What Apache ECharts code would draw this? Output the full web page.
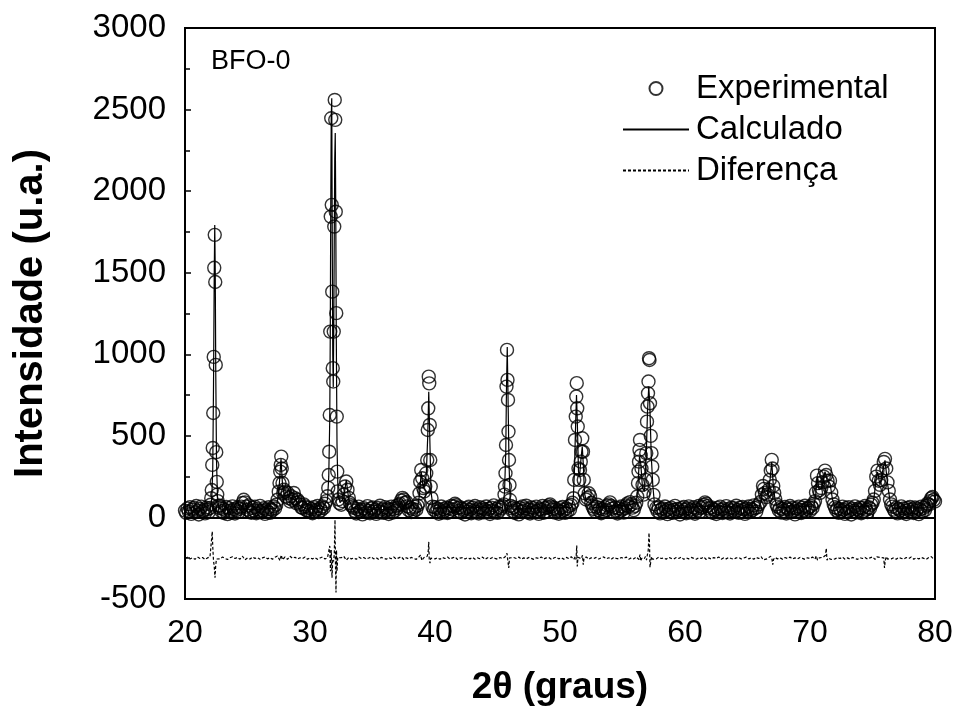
<!DOCTYPE html>
<html><head><meta charset="utf-8">
<script src="https://cdn.jsdelivr.net/npm/echarts@6/dist/echarts.min.js"></script>
<style>html,body{margin:0;padding:0;background:#fff}#c{width:959px;height:718px}</style>
</head><body><div id="c"></div>
<script>
// Axis ticks
const xTicks = [20, 30, 40, 50, 60, 70, 80];
const yTicks = [-500, 0, 500, 1000, 1500, 2000, 2500, 3000];
const sampleLabel = 'BFO-0';
const seriesNames = ['Experimental', 'Calculado', 'Diferença'];

// Experimental pattern [2θ, intensity]
const experimental = [
[20.0,42],[20.1,28],[20.2,55],[20.3,36],[20.4,63],[20.5,22],[20.6,47],[20.7,58],[20.8,31],[20.9,70],[21.0,40],[21.1,18],[21.2,52],[21.3,66],[21.4,35],[21.5,44],[21.6,25],[21.7,60],[21.8,49],[21.9,33],[22.0,58],
[22.06,78],[22.10,118],[22.14,168],[22.18,322],[22.22,426],[22.26,640],[22.30,984],[22.34,1530],[22.38,1732],[22.42,1443],[22.46,935],[22.50,400],[22.54,218],[22.58,140],[22.62,100],[22.68,72],[22.76,58],
[22.8,72],[22.9,38],[23.0,54],[23.1,27],[23.2,46],[23.3,64],[23.4,20],[23.5,57],[23.6,41],[23.7,30],[23.8,68],[23.9,50],[24.0,24],[24.1,45],[24.2,61],[24.3,34],[24.4,53],[24.5,66],[24.6,88],[24.7,108],[24.8,92],[24.9,66],
[25.0,48],[25.1,74],[25.2,37],[25.3,29],[25.4,59],[25.5,43],[25.6,65],[25.7,26],[25.8,51],[25.9,39],[26.0,71],[26.1,32],[26.2,42],[26.3,56],[26.4,22],[26.5,47],[26.6,35],[26.7,62],[26.8,28],[26.9,50],[27.0,44],[27.1,67],[27.2,55],[27.3,78],
[27.4,108],[27.5,158],[27.56,211],[27.62,281],[27.66,322],[27.70,373],[27.74,300],[27.80,211],[27.86,150],[27.92,170],[28.0,158],[28.1,128],[28.2,150],[28.3,118],[28.4,98],[28.5,130],[28.6,108],[28.7,150],[28.8,118],[28.9,88],[29.0,108],
[29.1,95],[29.2,78],[29.3,62],[29.4,58],[29.5,80],[29.6,68],[29.7,45],[29.8,42],[29.9,60],[30.0,35],
[30.1,52],[30.2,26],[30.3,63],[30.4,38],[30.5,47],[30.6,70],[30.7,33],[30.8,55],[30.9,44],[31.0,68],[31.1,58],[31.2,84],[31.3,100],
[31.40,130],[31.46,181],[31.50,260],[31.54,403],[31.58,628],[31.62,1139],[31.66,1844],[31.70,2447],[31.74,1916],[31.78,1384],[31.82,915],[31.86,833],[31.90,1139],[31.94,1783],[31.98,2559],[32.02,2437],[32.06,1874],[32.10,1252],[32.14,618],[32.18,281],[32.22,160],[32.28,110],[32.36,88],
[32.5,78],[32.6,100],[32.7,140],[32.8,190],[32.9,220],[33.0,170],[33.1,120],[33.2,88],[33.3,75],[33.4,66],
[33.5,58],[33.6,40],[33.7,24],[33.8,52],[33.9,66],[34.0,37],[34.1,45],[34.2,19],[34.3,57],[34.4,48],[34.5,31],[34.6,69],[34.7,42],[34.8,26],[34.9,54],[35.0,61],[35.1,36],[35.2,47],[35.3,22],[35.4,58],[35.5,40],[35.6,72],[35.7,33],[35.8,50],[35.9,28],
[36.0,63],[36.1,45],[36.2,55],[36.3,21],[36.4,48],[36.5,66],[36.6,30],[36.7,52],[36.8,41],[36.9,70],[37.0,58],[37.1,76],[37.2,84],[37.3,104],[37.4,120],[37.5,110],[37.6,88],[37.7,95],[37.8,68],[37.9,44],[38.0,60],[38.1,33],[38.2,52],[38.3,38],[38.4,65],[38.5,47],[38.6,72],
[38.70,90],[38.76,148],[38.82,219],[38.90,291],[38.98,240],[39.06,180],[39.14,160],[39.22,189],[39.30,271],[39.38,352],[39.42,536],[39.46,669],[39.50,863],[39.54,822],[39.58,567],[39.62,352],[39.66,189],[39.72,118],[39.80,66],[39.9,48],
[40.0,62],[40.1,35],[40.2,54],[40.3,23],[40.4,46],[40.5,67],[40.6,30],[40.7,51],[40.8,42],[40.9,60],[41.0,27],[41.1,55],[41.2,38],[41.3,71],[41.4,49],[41.5,68],[41.6,84],[41.7,75],[41.8,58],[41.9,40],
[42.0,62],[42.1,29],[42.2,53],[42.3,44],[42.4,18],[42.5,57],[42.6,36],[42.7,65],[42.8,47],[42.9,26],[43.0,59],[43.1,41],[43.2,70],[43.3,33],[43.4,50],[43.5,24],[43.6,62],[43.7,45],[43.8,56],[43.9,31],
[44.0,48],[44.1,67],[44.2,38],[44.3,53],[44.4,21],[44.5,60],[44.6,43],[44.7,74],[44.8,35],[44.9,52],[45.0,28],[45.1,64],[45.2,46],[45.3,58],[45.4,70],
[45.50,80],[45.56,140],[45.60,189],[45.64,271],[45.68,444],[45.72,802],[45.76,1027],[45.80,843],[45.84,720],[45.88,526],[45.92,352],[45.96,199],[46.00,107],[46.06,70],[46.15,56],
[46.2,40],[46.3,63],[46.4,27],[46.5,52],[46.6,45],[46.7,19],[46.8,58],[46.9,36],[47.0,68],[47.1,42],[47.2,55],[47.3,72],[47.4,31],[47.5,49],[47.6,24],[47.7,61],[47.8,44],[47.9,57],
[48.0,33],[48.1,66],[48.2,40],[48.3,22],[48.4,53],[48.5,47],[48.6,70],[48.7,29],[48.8,56],[48.9,38],[49.0,62],[49.1,74],[49.2,80],[49.3,66],[49.4,48],[49.5,59],[49.6,30],[49.7,52],[49.8,41],[49.9,23],
[50.0,57],[50.1,35],[50.2,64],[50.3,46],[50.4,28],[50.5,54],[50.6,39],[50.7,69],[50.8,48],[50.9,76],
[51.00,90],[51.08,118],[51.14,230],[51.20,475],[51.26,618],[51.30,741],[51.34,823],[51.38,669],[51.42,557],[51.48,300],[51.54,230],[51.60,291],[51.66,342],[51.72,403],[51.78,485],[51.84,403],[51.90,230],[51.98,148],[52.08,110],[52.2,120],[52.3,148],[52.4,130],[52.5,90],[52.6,68],
[52.7,52],[52.8,38],[52.9,64],[53.0,78],[53.1,45],[53.2,58],[53.3,26],[53.4,50],[53.5,36],[53.6,62],[53.7,44],[53.8,72],[53.9,80],[54.0,92],[54.1,70],[54.2,55],[54.3,33],[54.4,61],[54.5,42],[54.6,24],[54.7,56],[54.8,38],[54.9,67],
[55.0,47],[55.1,30],[55.2,58],[55.3,74],[55.4,86],[55.5,66],[55.6,94],[55.7,80],[55.8,60],[55.9,45],[56.0,70],
[56.10,90],[56.18,128],[56.24,210],[56.28,281],[56.32,342],[56.36,414],[56.40,475],[56.46,380],[56.52,300],[56.60,200],[56.68,140],[56.76,160],[56.84,230],[56.90,394],[56.96,587],[57.00,679],[57.04,761],[57.08,833],[57.12,976],[57.16,965],[57.20,700],[57.26,500],[57.32,394],[57.38,311],[57.42,230],[57.48,138],[57.56,80],[57.7,58],
[57.8,40],[57.9,62],[58.0,25],[58.1,48],[58.2,55],[58.3,32],[58.4,67],[58.5,44],[58.6,20],[58.7,53],[58.8,39],[58.9,60],[59.0,28],[59.1,47],[59.2,71],[59.3,35],[59.4,52],[59.5,43],[59.6,18],[59.7,57],[59.8,37],[59.9,64],
[60.0,46],[60.1,26],[60.2,55],[60.3,68],[60.4,31],[60.5,49],[60.6,40],[60.7,62],[60.8,23],[60.9,54],[61.0,45],[61.1,70],[61.2,36],[61.3,58],[61.4,66],[61.5,78],[61.6,92],[61.7,84],[61.8,70],[61.9,55],
[62.0,38],[62.1,61],[62.2,29],[62.3,50],[62.4,44],[62.5,21],[62.6,58],[62.7,35],[62.8,66],[62.9,47],[63.0,27],[63.1,54],[63.2,41],[63.3,69],[63.4,32],[63.5,51],[63.6,24],[63.7,60],[63.8,43],[63.9,56],
[64.0,34],[64.1,72],[64.2,46],[64.3,28],[64.4,59],[64.5,38],[64.6,64],[64.7,49],[64.8,22],[64.9,55],[65.0,40],[65.1,67],[65.2,33],[65.3,52],[65.4,45],[65.5,74],[65.6,57],[65.7,36],[65.8,62],[65.9,80],
[66.05,95],[66.15,140],[66.24,193],[66.32,175],[66.40,150],[66.50,125],[66.60,140],[66.70,170],[66.78,230],[66.86,287],[66.94,353],[67.00,300],[67.06,193],[67.14,150],[67.22,113],[67.32,80],
[67.4,66],[67.5,45],[67.6,58],[67.7,30],[67.8,52],[67.9,40],[68.0,64],[68.1,24],[68.2,55],[68.3,47],[68.4,70],[68.5,33],[68.6,58],[68.7,42],[68.8,19],[68.9,56],[69.0,38],[69.1,66],[69.2,48],[69.3,27],[69.4,60],[69.5,44],[69.6,72],[69.7,35],[69.8,53],[69.9,62],[70.0,41],[70.1,70],[70.2,58],[70.3,84],
[70.40,100],[70.48,153],[70.56,256],[70.64,210],[70.72,165],[70.80,150],[70.90,180],[71.00,215],[71.10,250],[71.20,287],[71.30,260],[71.40,225],[71.50,190],[71.60,225],[71.70,153],[71.80,110],[71.90,80],
[72.0,62],[72.1,44],[72.2,55],[72.3,28],[72.4,50],[72.5,39],[72.6,66],[72.7,47],[72.8,22],[72.9,58],[73.0,35],[73.1,63],[73.2,45],[73.3,18],[73.4,54],[73.5,40],[73.6,68],[73.7,31],[73.8,52],[73.9,44],
[74.0,60],[74.1,26],[74.2,57],[74.3,38],[74.4,70],[74.5,48],[74.6,33],[74.7,62],[74.8,55],[74.9,78],[75.0,90],
[75.10,110],[75.20,163],[75.30,250],[75.40,287],[75.50,225],[75.60,200],[75.70,230],[75.80,287],[75.90,340],[76.00,359],[76.10,300],[76.20,215],[76.30,163],[76.40,110],[76.50,80],
[76.6,66],[76.7,48],[76.8,37],[76.9,59],[77.0,25],[77.1,52],[77.2,43],[77.3,68],[77.4,30],[77.5,55],[77.6,40],[77.7,21],[77.8,58],[77.9,46],
[78.0,64],[78.1,34],[78.2,50],[78.3,27],[78.4,61],[78.5,42],[78.6,55],[78.7,20],[78.8,48],[78.9,66],[79.0,37],[79.1,58],[79.2,45],[79.3,72],[79.4,85],[79.5,78],[79.6,100],[79.7,118],[79.8,125],[79.9,108],[80.0,98]
];

// Calculated profile [2θ, intensity]
const calculated = [
[20,44],[21,45],[22,47],[22.14,110],[22.22,300],[22.28,800],[22.34,1500],[22.38,1793],[22.42,1500],[22.46,900],[22.52,350],[22.6,120],[22.7,60],[23,47],[24.5,47],[24.75,95],[25,47],
[27.3,55],[27.5,150],[27.68,360],[27.8,200],[27.95,130],[28.2,140],[28.5,120],[28.8,110],[29.2,70],[29.8,50],[31,55],
[31.4,110],[31.5,250],[31.58,600],[31.62,1100],[31.66,1900],[31.70,2460],[31.74,2570],[31.78,1700],[31.82,1000],[31.86,800],[31.90,1150],[31.94,1700],[31.98,2200],[32.02,2357],[32.06,1900],[32.10,1150],[32.16,450],[32.24,150],[32.4,90],
[32.7,120],[32.9,230],[33.1,110],[33.4,60],[34,47],[37,50],[37.4,110],[37.7,60],[38.6,55],
[38.76,140],[38.9,280],[39.06,180],[39.3,260],[39.42,500],[39.5,771],[39.58,500],[39.68,160],[39.85,55],[41.6,62],[45.4,60],
[45.56,150],[45.66,400],[45.72,800],[45.78,1045],[45.84,750],[45.92,330],[46.02,100],[46.2,50],[49.3,60],[50.9,60],
[51.06,110],[51.16,300],[51.26,600],[51.32,751],[51.38,600],[51.48,280],[51.56,250],[51.68,360],[51.78,434],[51.86,330],[51.96,150],[52.1,100],[52.35,130],[52.6,60],[54,68],[55.6,78],
[56.1,90],[56.24,200],[56.36,373],[56.46,330],[56.6,180],[56.76,160],[56.9,380],[57.0,650],[57.1,802],[57.18,700],[57.3,380],[57.42,200],[57.56,80],[57.8,50],[61.8,70],[65.9,60],
[66.1,100],[66.24,190],[66.4,150],[66.6,140],[66.8,230],[66.94,340],[67.06,200],[67.2,110],[67.4,60],[70.3,70],
[70.45,130],[70.56,250],[70.72,170],[70.9,180],[71.2,280],[71.4,220],[71.6,210],[71.8,110],[72.0,60],[74.9,70],
[75.1,110],[75.3,240],[75.4,280],[75.6,200],[75.8,280],[76.0,350],[76.2,210],[76.4,100],[76.6,55],[79.4,60],[79.7,115],[80,100]
];

// Difference (offset) [2θ, intensity]
const difference = [
[20.0,-250],[20.2,-244],[20.4,-255],[20.6,-247],[20.8,-257],[21.0,-243],[21.2,-252],[21.4,-246],[21.6,-258],[21.8,-248],[22.0,-242],
[22.12,-238],[22.18,-87],[22.22,-180],[22.28,-265],[22.34,-300],[22.40,-370],[22.46,-290],[22.52,-255],
[22.6,-246],[22.8,-254],[23.0,-243],[23.2,-251],[23.4,-258],[23.6,-247],[23.8,-241],[24.0,-252],[24.2,-245],[24.4,-256],[24.6,-238],[24.8,-260],[25.0,-248],[25.2,-255],[25.4,-243],[25.6,-251],[25.8,-246],[26.0,-257],[26.2,-248],[26.4,-242],[26.6,-254],[26.8,-247],[27.0,-256],[27.2,-244],[27.4,-236],[27.6,-264],[27.7,-230],[27.8,-260],[28.0,-242],[28.2,-257],[28.4,-238],[28.6,-251],[28.8,-244],[29.0,-255],[29.2,-247],[29.4,-253],[29.6,-243],[29.8,-256],[30.0,-248],[30.2,-254],[30.4,-246],[30.6,-257],[30.8,-249],[31.0,-242],[31.2,-255],[31.4,-246],
[31.52,-240],[31.58,-175],[31.64,-330],[31.70,-200],[31.76,-370],[31.82,-255],[31.88,-270],[31.94,-230],[32.00,-15],[32.04,-300],[32.08,-460],[32.12,-200],[32.16,-330],[32.22,-245],
[32.3,-257],[32.5,-247],[32.7,-238],[32.9,-262],[33.1,-245],[33.3,-254],[33.5,-248],[33.7,-257],[33.9,-243],[34.1,-252],[34.3,-246],[34.5,-255],[34.7,-249],[34.9,-242],[35.1,-254],[35.3,-247],[35.5,-258],[35.7,-245],[35.9,-251],[36.1,-256],[36.3,-246],[36.5,-253],[36.7,-243],[36.9,-255],[37.1,-248],[37.3,-241],[37.5,-258],[37.7,-247],[37.9,-254],[38.1,-245],[38.3,-251],[38.5,-257],[38.7,-243],[38.85,-230],[38.95,-264],[39.1,-247],[39.25,-253],[39.38,-238],[39.46,-205],[39.50,-150],[39.54,-262],[39.60,-280],[39.66,-250],
[39.8,-245],[40.0,-254],[40.2,-247],[40.4,-257],[40.6,-246],[40.8,-252],[41.0,-243],[41.2,-255],[41.4,-248],[41.6,-242],[41.8,-258],[42.0,-249],[42.2,-246],[42.4,-255],[42.6,-247],[42.8,-254],[43.0,-245],[43.2,-256],[43.4,-248],[43.6,-253],[43.8,-243],[44.0,-257],[44.2,-247],[44.4,-254],[44.6,-245],[44.8,-251],[45.0,-256],[45.2,-246],[45.4,-252],[45.6,-242],
[45.70,-238],[45.76,-220],[45.82,-262],[45.90,-310],[45.96,-248],
[46.1,-255],[46.3,-246],[46.5,-252],[46.7,-243],[46.9,-256],[47.1,-248],[47.3,-254],[47.5,-245],[47.7,-251],[47.9,-257],[48.1,-247],[48.3,-252],[48.5,-242],[48.7,-255],[48.9,-248],[49.1,-246],[49.3,-257],[49.5,-249],[49.7,-243],[49.9,-254],[50.1,-247],[50.3,-256],[50.5,-245],[50.7,-252],[50.9,-241],[51.1,-258],
[51.22,-240],[51.28,-258],[51.34,-172],[51.38,-300],[51.44,-244],[51.52,-256],[51.6,-247],[51.7,-253],[51.80,-232],[51.86,-290],[51.92,-250],
[52.1,-243],[52.3,-256],[52.5,-247],[52.7,-252],[52.9,-245],[53.1,-255],[53.3,-248],[53.5,-242],[53.7,-254],[53.9,-247],[54.1,-257],[54.3,-245],[54.5,-251],[54.7,-255],[54.9,-246],[55.1,-252],[55.3,-243],[55.5,-256],[55.7,-248],[55.9,-254],[56.1,-242],
[56.24,-238],[56.32,-258],[56.40,-228],[56.46,-268],[56.54,-250],[56.64,-246],[56.74,-254],[56.84,-240],[56.92,-262],[57.00,-225],[57.06,-200],[57.12,-95],[57.16,-160],[57.20,-305],[57.26,-310],[57.32,-240],[57.40,-256],
[57.5,-247],[57.7,-254],[57.9,-243],[58.1,-252],[58.3,-248],[58.5,-256],[58.7,-245],[58.9,-251],[59.1,-255],[59.3,-246],[59.5,-252],[59.7,-243],[59.9,-257],[60.1,-248],[60.3,-254],[60.5,-245],[60.7,-251],[60.9,-256],[61.1,-247],[61.3,-252],[61.5,-242],[61.7,-258],[61.9,-248],[62.1,-255],[62.3,-246],[62.5,-251],[62.7,-243],[62.9,-256],[63.1,-247],[63.3,-254],[63.5,-245],[63.7,-252],[63.9,-257],[64.1,-248],[64.3,-246],[64.5,-255],[64.7,-249],[64.9,-243],[65.1,-254],[65.3,-247],[65.5,-256],[65.7,-245],[65.9,-252],
[66.1,-241],[66.25,-260],[66.4,-248],[66.55,-254],[66.7,-243],[66.85,-238],[66.96,-257],[67.02,-290],[67.08,-258],[67.2,-245],
[67.4,-254],[67.6,-247],[67.8,-256],[68.0,-246],[68.2,-252],[68.4,-243],[68.6,-255],[68.8,-248],[69.0,-254],[69.2,-245],[69.4,-251],[69.6,-257],[69.8,-247],[70.0,-252],[70.2,-243],[70.4,-256],
[70.5,-236],[70.6,-262],[70.75,-248],[70.9,-252],[71.05,-244],[71.18,-256],[71.24,-232],[71.30,-190],[71.36,-262],[71.45,-248],[71.6,-240],[71.7,-258],[71.85,-249],
[72.0,-254],[72.2,-246],[72.4,-252],[72.6,-243],[72.8,-256],[73.0,-248],[73.2,-255],[73.4,-245],[73.6,-251],[73.8,-257],[74.0,-247],[74.2,-252],[74.4,-245],[74.6,-255],[74.8,-248],[75.0,-242],
[75.2,-257],[75.35,-242],[75.5,-252],[75.65,-246],[75.8,-254],[75.90,-248],[75.96,-310],[76.02,-265],[76.1,-240],[76.2,-255],[76.35,-247],
[76.5,-254],[76.7,-247],[76.9,-256],[77.1,-245],[77.3,-251],[77.5,-255],[77.7,-246],[77.9,-252],[78.1,-243],[78.3,-256],[78.5,-248],[78.7,-254],[78.9,-245],[79.1,-251],[79.3,-257],[79.5,-246],[79.7,-240],[79.9,-256],[80.0,-250]
];

const FONT = '"Liberation Sans", Arial, Helvetica, sans-serif';
const noIcon = {color: 'rgba(0,0,0,0)', borderColor: 'rgba(0,0,0,0)', borderWidth: 0};
const chart = echarts.init(document.getElementById('c'), null, {renderer: 'canvas'});
chart.setOption({
  animation: false,
  backgroundColor: '#fff',
  textStyle: {fontFamily: FONT, color: '#000'},
  title: {
    text: sampleLabel, left: 206, top: 43,
    textStyle: {fontFamily: FONT, fontSize: 27, fontWeight: 'normal', color: '#000'}
  },
  legend: {
    orient: 'vertical', left: 622, top: 72, padding: 0,
    itemWidth: 66, itemHeight: 13, itemGap: 8,
    textStyle: {fontFamily: FONT, fontSize: 33, color: '#000', lineHeight: 33, padding: [0,0,0,2]},
    data: [
      {name: seriesNames[0]},
      {name: seriesNames[1], itemStyle: noIcon},
      {name: seriesNames[2], itemStyle: noIcon}
    ]
  },
  grid: {left: 185, right: 24, top: 28, bottom: 119, show: true, borderColor: '#000', borderWidth: 2, containLabel: false},
  xAxis: {
    type: 'value', min: xTicks[0], max: xTicks[xTicks.length-1], interval: xTicks[1]-xTicks[0],
    name: '2θ (graus)', nameLocation: 'middle', nameGap: 70,
    nameTextStyle: {fontFamily: FONT, fontSize: 37, fontWeight: 'bold', color: '#000'},
    axisLine: {lineStyle: {color: '#000', width: 2}},
    axisTick: {inside: true, length: 7, lineStyle: {color: '#000', width: 1.5}},
    minorTick: {show: true, splitNumber: 2, length: 4, lineStyle: {color: '#000', width: 1.5}},
    axisLabel: {fontFamily: FONT, fontSize: 32, color: '#000', margin: 18, formatter: v => String(v)},
    splitLine: {show: false}
  },
  yAxis: {
    type: 'value', min: yTicks[0], max: yTicks[yTicks.length-1], interval: yTicks[1]-yTicks[0],
    name: 'Intensidade (u.a.)', nameLocation: 'middle', nameGap: 134,
    nameTextStyle: {fontFamily: FONT, fontSize: 40, fontWeight: 'bold', color: '#000'},
    axisLine: {lineStyle: {color: '#000', width: 2}},
    axisTick: {inside: true, length: 6, lineStyle: {color: '#000', width: 1.5}},
    minorTick: {show: true, splitNumber: 2, length: 5, lineStyle: {color: '#000', width: 1.5}},
    axisLabel: {fontFamily: FONT, fontSize: 33, color: '#000', margin: 19, formatter: v => String(v)},
    splitLine: {show: false}
  },
  series: [
    {
      name: seriesNames[0], type: 'scatter', data: experimental,
      symbol: 'circle', symbolSize: 13,
      itemStyle: {color: 'rgba(255,255,255,0)', borderColor: '#000', borderWidth: 1.4},
      z: 2
    },
    {
      name: seriesNames[1], type: 'line', data: calculated,
      symbol: 'none', showSymbol: false,
      lineStyle: {color: '#000', width: 1.2},
      itemStyle: {color: '#000'},
      z: 3
    },
    {
      name: seriesNames[2], type: 'line', data: difference,
      symbol: 'none', showSymbol: false,
      lineStyle: {color: '#000', width: 1.2, type: [3, 2]},
      itemStyle: {color: '#000'},
      z: 3
    }
  ]
});
</script>
</body></html>
